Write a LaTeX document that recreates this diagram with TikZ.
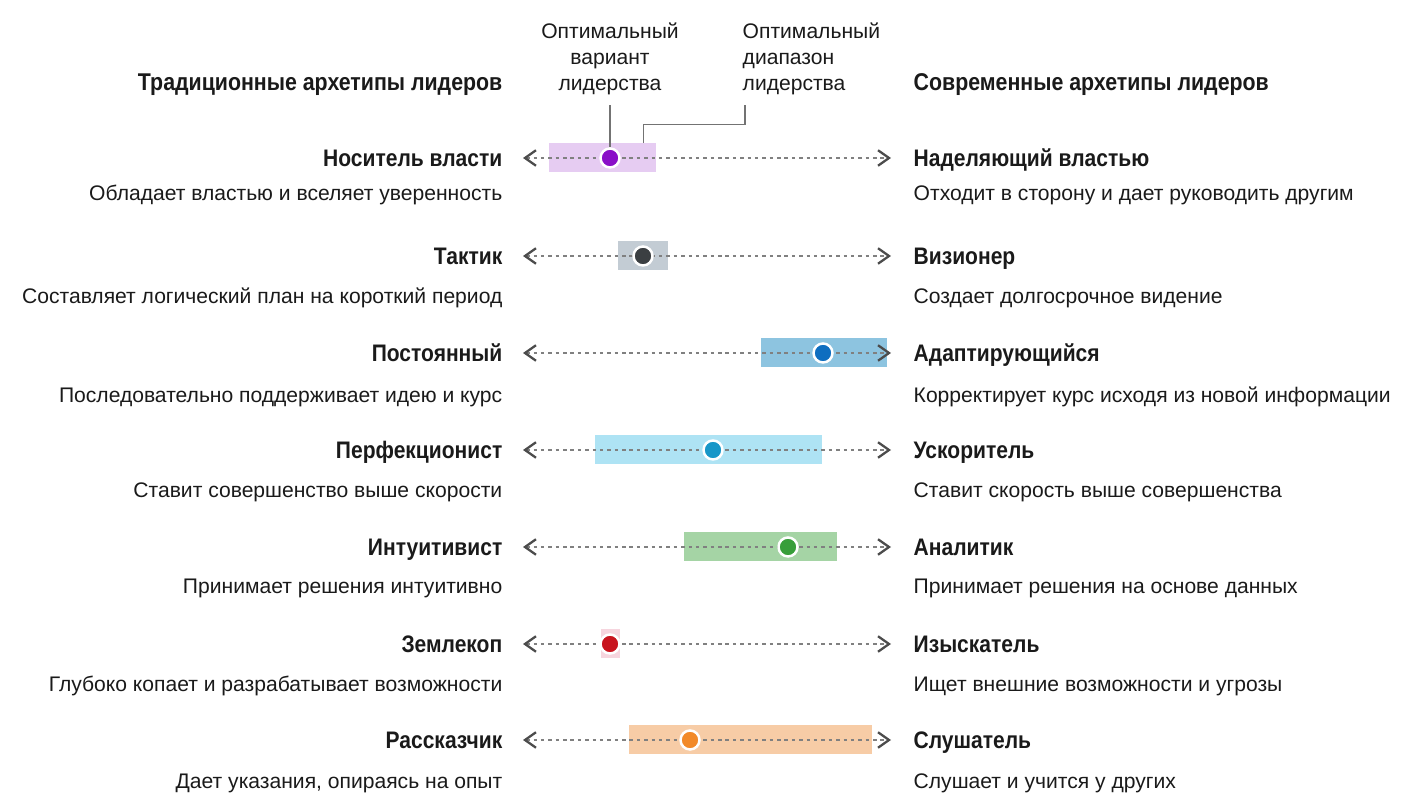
\documentclass[tikz,border=0pt]{standalone}
\usepackage{fontspec}
\setmainfont{Liberation Sans}
\newfontfamily\condfont{Liberation Sans}[FakeStretch=0.88]
\usetikzlibrary{arrows.meta}

\definecolor{inktext}{HTML}{1A1A1A}
\definecolor{rngviolet}{HTML}{E6CCF2}
\definecolor{dotviolet}{HTML}{8A0FC8}
\definecolor{rnggray}{HTML}{C3CCD4}
\definecolor{dotgray}{HTML}{3B3F42}
\definecolor{rngsteel}{HTML}{8DC4E0}
\definecolor{dotsteel}{HTML}{0E6EC0}
\definecolor{rngcyan}{HTML}{AEE3F4}
\definecolor{dotcyan}{HTML}{1897C8}
\definecolor{rnggreen}{HTML}{A5D4A5}
\definecolor{dotgreen}{HTML}{389E3A}
\definecolor{rngpink}{HTML}{F6D5DE}
\definecolor{dotred}{HTML}{C8141E}
\definecolor{rngorange}{HTML}{F7CCA6}
\definecolor{dotorange}{HTML}{F28A2A}

\begin{document}
\begin{tikzpicture}[
        lefttitle/.style={anchor=east, inner sep=0pt, text height=4.9pt, text depth=0pt, text=inktext,
            font=\condfont\bfseries\fontsize{6.8}{8}\selectfont},
        righttitle/.style={lefttitle, anchor=west},
        headtitle/.style={lefttitle, font=\condfont\bfseries\fontsize{6.9}{8}\selectfont},
        leftdesc/.style={anchor=east, inner sep=0pt, text height=4.4pt, text depth=0pt, text=inktext,
            font=\fontsize{6.0}{7.4}\selectfont},
        rightdesc/.style={leftdesc, anchor=west},
        toplabel/.style={inner sep=0pt, text=inktext, font=\fontsize{6.0}{7.4}\selectfont},
        rangebox/.style={rectangle, anchor=west, inner sep=0pt, minimum height=2.9mm},
        optdot/.style={circle, inner sep=0pt, minimum size=1.9mm, draw=white, line width=0.7pt},
        scaleline/.style={draw=black!50, line width=0.65pt, dash pattern=on 1pt off 1.1pt,
            {Straight Barb[length=1.1mm, width=1.55mm, color=black!70]}-{Straight Barb[length=1.1mm, width=1.55mm, color=black!70]},
            shorten <=2mm, shorten >=2.2mm},
        leader/.style={draw=black!55, line width=0.45pt}
    ]
    \useasboundingbox (0,0) rectangle (14.11,8.11);

    % Headers
    \node[headtitle] (headl) at (5.03,7.29) {Традиционные архетипы лидеров};
    \node[headtitle, anchor=west] (headr) at (9.13,7.29) {Современные архетипы лидеров};

    % Legend labels
    \node[toplabel, anchor=north, align=center] (lblopt) at (6.10,7.89) {Оптимальный\\вариант\\лидерства};
    \node[toplabel, anchor=north west, align=left] (lblrng) at (7.42,7.89) {Оптимальный\\диапазон\\лидерства};

    % Left archetypes
    \node[lefttitle] (lt1) at (5.03,6.53) {Носитель власти};
    \node[leftdesc] (ld1) at (5.03,6.18) {Обладает властью и вселяет уверенность};
    \node[lefttitle] (lt2) at (5.03,5.55) {Тактик};
    \node[leftdesc] (ld2) at (5.03,5.15) {Составляет логический план на короткий период};
    \node[lefttitle] (lt3) at (5.03,4.58) {Постоянный};
    \node[leftdesc] (ld3) at (5.03,4.16) {Последовательно поддерживает идею и курс};
    \node[lefttitle] (lt4) at (5.03,3.61) {Перфекционист};
    \node[leftdesc] (ld4) at (5.03,3.21) {Ставит совершенство выше скорости};
    \node[lefttitle] (lt5) at (5.03,2.64) {Интуитивист};
    \node[leftdesc] (ld5) at (5.03,2.25) {Принимает решения интуитивно};
    \node[lefttitle] (lt6) at (5.03,1.67) {Землекоп};
    \node[leftdesc] (ld6) at (5.03,1.27) {Глубоко копает и разрабатывает возможности};
    \node[lefttitle] (lt7) at (5.03,0.71) {Рассказчик};
    \node[leftdesc] (ld7) at (5.03,0.30) {Дает указания, опираясь на опыт};

    % Right archetypes
    \node[righttitle] (rt1) at (9.13,6.53) {Наделяющий властью};
    \node[rightdesc] (rd1) at (9.13,6.18) {Отходит в сторону и дает руководить другим};
    \node[righttitle] (rt2) at (9.13,5.55) {Визионер};
    \node[rightdesc] (rd2) at (9.13,5.15) {Создает долгосрочное видение};
    \node[righttitle] (rt3) at (9.13,4.58) {Адаптирующийся};
    \node[rightdesc] (rd3) at (9.13,4.16) {Корректирует курс исходя из новой информации};
    \node[righttitle] (rt4) at (9.13,3.61) {Ускоритель};
    \node[rightdesc] (rd4) at (9.13,3.21) {Ставит скорость выше совершенства};
    \node[righttitle] (rt5) at (9.13,2.64) {Аналитик};
    \node[rightdesc] (rd5) at (9.13,2.25) {Принимает решения на основе данных};
    \node[righttitle] (rt6) at (9.13,1.67) {Изыскатель};
    \node[rightdesc] (rd6) at (9.13,1.27) {Ищет внешние возможности и угрозы};
    \node[righttitle] (rt7) at (9.13,0.71) {Слушатель};
    \node[rightdesc] (rd7) at (9.13,0.30) {Слушает и учится у других};

    % Optimal ranges
    \node[rangebox, fill=rngviolet, minimum width=10.7mm] (box1) at (5.48,6.53) {};
    \node[rangebox, fill=rnggray, minimum width=5.0mm] (box2) at (6.17,5.55) {};
    \node[rangebox, fill=rngsteel, minimum width=12.6mm] (box3) at (7.60,4.58) {};
    \node[rangebox, fill=rngcyan, minimum width=22.7mm] (box4) at (5.94,3.61) {};
    \node[rangebox, fill=rnggreen, minimum width=15.3mm] (box5) at (6.83,2.64) {};
    \node[rangebox, fill=rngpink, minimum width=1.9mm] (box6) at (6.00,1.67) {};
    \node[rangebox, fill=rngorange, minimum width=24.3mm] (box7) at (6.28,0.71) {};

    % Scales
    \draw[scaleline] (lt1.east) -- (rt1.west);
    \draw[scaleline] (lt2.east) -- (rt2.west);
    \draw[scaleline] (lt3.east) -- (rt3.west);
    \draw[scaleline] (lt4.east) -- (rt4.west);
    \draw[scaleline] (lt5.east) -- (rt5.west);
    \draw[scaleline] (lt6.east) -- (rt6.west);
    \draw[scaleline] (lt7.east) -- (rt7.west);

    % Optimal points
    \node[optdot, fill=dotviolet] (dot1) at (6.10,6.53) {};
    \node[optdot, fill=dotgray] (dot2) at (6.43,5.55) {};
    \node[optdot, fill=dotsteel] (dot3) at (8.23,4.58) {};
    \node[optdot, fill=dotcyan] (dot4) at (7.13,3.61) {};
    \node[optdot, fill=dotgreen] (dot5) at (7.88,2.64) {};
    \node[optdot, fill=dotred] (dot6) at (6.10,1.67) {};
    \node[optdot, fill=dotorange] (dot7) at (6.90,0.71) {};

    % Leaders
    \coordinate (rngtip) at ([xshift=-1.3mm]box1.north east);
    \draw[leader, shorten <=1mm] (lblopt.south) -- (dot1.north);
    \draw[leader] ([xshift=0.3mm,yshift=-1mm]lblrng.south west) -- ++(0,-0.19) -| (rngtip);

\end{tikzpicture}
\end{document}
